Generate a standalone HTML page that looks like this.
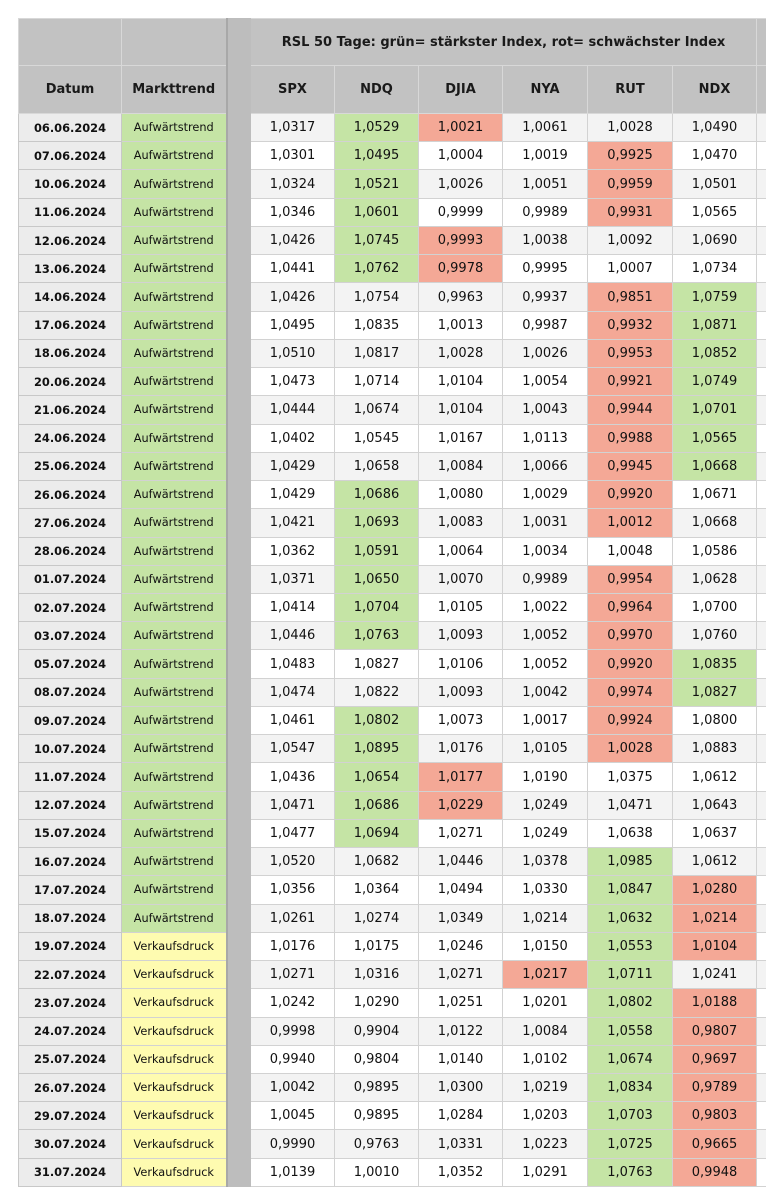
<!DOCTYPE html>
<html><head><meta charset="utf-8"><style>
body{margin:0;background:#fff;width:766px;height:1200px;overflow:hidden;font-family:"DejaVu Sans","Liberation Sans",sans-serif;}
table{position:absolute;left:18px;top:18px;width:748px;table-layout:fixed;border-collapse:collapse;}
td{border:1px solid #d2d2d2;text-align:center;padding:0;font-size:13px;color:#111;white-space:nowrap;overflow:hidden}
thead td{background:#c2c2c2;font-weight:bold;font-size:13px;color:#1a1a1a;border-color:#d8d8d8}
thead tr.h1{height:47px}thead tr.h2{height:48px}
tbody tr{height:28.24px}
tbody tr:nth-child(odd) td{background:#f3f3f3}
tbody tr:nth-child(even) td{background:#fff}
tbody td.d{background:#ececec !important;font-weight:bold;font-size:11.4px;border-color:#c8c8c8}
tbody td.a{background:#c5e4a5 !important;font-size:11.3px}
tbody td.v{background:#fefbb0 !important;font-size:11.3px}
td.x{background:#bdbdbd !important;border-color:#bdbdbd;border-left:2px solid #a8a8a8}
tbody td.g{background:#c5e4a5 !important}
tbody td.r{background:#f4a896 !important}
td.e{border-right:none}
</style></head><body>
<table>
<colgroup><col style="width:103px"><col style="width:105px"><col style="width:24px"><col style="width:84px"><col style="width:84px"><col style="width:84px"><col style="width:85px"><col style="width:85px"><col style="width:84px"><col style="width:10px"></colgroup>
<thead>
<tr class="h1"><td></td><td></td><td class="x"></td><td colspan="6">RSL 50 Tage: grün= stärkster Index, rot= schwächster Index</td><td class="e"></td></tr>
<tr class="h2"><td>Datum</td><td>Markttrend</td><td class="x"></td><td>SPX</td><td>NDQ</td><td>DJIA</td><td>NYA</td><td>RUT</td><td>NDX</td><td class="e"></td></tr>
</thead>
<tbody>
<tr><td class="d">06.06.2024</td><td class="a">Aufwärtstrend</td><td class="x"></td><td>1,0317</td><td class="g">1,0529</td><td class="r">1,0021</td><td>1,0061</td><td>1,0028</td><td>1,0490</td><td class="e"></td></tr>
<tr><td class="d">07.06.2024</td><td class="a">Aufwärtstrend</td><td class="x"></td><td>1,0301</td><td class="g">1,0495</td><td>1,0004</td><td>1,0019</td><td class="r">0,9925</td><td>1,0470</td><td class="e"></td></tr>
<tr><td class="d">10.06.2024</td><td class="a">Aufwärtstrend</td><td class="x"></td><td>1,0324</td><td class="g">1,0521</td><td>1,0026</td><td>1,0051</td><td class="r">0,9959</td><td>1,0501</td><td class="e"></td></tr>
<tr><td class="d">11.06.2024</td><td class="a">Aufwärtstrend</td><td class="x"></td><td>1,0346</td><td class="g">1,0601</td><td>0,9999</td><td>0,9989</td><td class="r">0,9931</td><td>1,0565</td><td class="e"></td></tr>
<tr><td class="d">12.06.2024</td><td class="a">Aufwärtstrend</td><td class="x"></td><td>1,0426</td><td class="g">1,0745</td><td class="r">0,9993</td><td>1,0038</td><td>1,0092</td><td>1,0690</td><td class="e"></td></tr>
<tr><td class="d">13.06.2024</td><td class="a">Aufwärtstrend</td><td class="x"></td><td>1,0441</td><td class="g">1,0762</td><td class="r">0,9978</td><td>0,9995</td><td>1,0007</td><td>1,0734</td><td class="e"></td></tr>
<tr><td class="d">14.06.2024</td><td class="a">Aufwärtstrend</td><td class="x"></td><td>1,0426</td><td>1,0754</td><td>0,9963</td><td>0,9937</td><td class="r">0,9851</td><td class="g">1,0759</td><td class="e"></td></tr>
<tr><td class="d">17.06.2024</td><td class="a">Aufwärtstrend</td><td class="x"></td><td>1,0495</td><td>1,0835</td><td>1,0013</td><td>0,9987</td><td class="r">0,9932</td><td class="g">1,0871</td><td class="e"></td></tr>
<tr><td class="d">18.06.2024</td><td class="a">Aufwärtstrend</td><td class="x"></td><td>1,0510</td><td>1,0817</td><td>1,0028</td><td>1,0026</td><td class="r">0,9953</td><td class="g">1,0852</td><td class="e"></td></tr>
<tr><td class="d">20.06.2024</td><td class="a">Aufwärtstrend</td><td class="x"></td><td>1,0473</td><td>1,0714</td><td>1,0104</td><td>1,0054</td><td class="r">0,9921</td><td class="g">1,0749</td><td class="e"></td></tr>
<tr><td class="d">21.06.2024</td><td class="a">Aufwärtstrend</td><td class="x"></td><td>1,0444</td><td>1,0674</td><td>1,0104</td><td>1,0043</td><td class="r">0,9944</td><td class="g">1,0701</td><td class="e"></td></tr>
<tr><td class="d">24.06.2024</td><td class="a">Aufwärtstrend</td><td class="x"></td><td>1,0402</td><td>1,0545</td><td>1,0167</td><td>1,0113</td><td class="r">0,9988</td><td class="g">1,0565</td><td class="e"></td></tr>
<tr><td class="d">25.06.2024</td><td class="a">Aufwärtstrend</td><td class="x"></td><td>1,0429</td><td>1,0658</td><td>1,0084</td><td>1,0066</td><td class="r">0,9945</td><td class="g">1,0668</td><td class="e"></td></tr>
<tr><td class="d">26.06.2024</td><td class="a">Aufwärtstrend</td><td class="x"></td><td>1,0429</td><td class="g">1,0686</td><td>1,0080</td><td>1,0029</td><td class="r">0,9920</td><td>1,0671</td><td class="e"></td></tr>
<tr><td class="d">27.06.2024</td><td class="a">Aufwärtstrend</td><td class="x"></td><td>1,0421</td><td class="g">1,0693</td><td>1,0083</td><td>1,0031</td><td class="r">1,0012</td><td>1,0668</td><td class="e"></td></tr>
<tr><td class="d">28.06.2024</td><td class="a">Aufwärtstrend</td><td class="x"></td><td>1,0362</td><td class="g">1,0591</td><td>1,0064</td><td>1,0034</td><td>1,0048</td><td>1,0586</td><td class="e"></td></tr>
<tr><td class="d">01.07.2024</td><td class="a">Aufwärtstrend</td><td class="x"></td><td>1,0371</td><td class="g">1,0650</td><td>1,0070</td><td>0,9989</td><td class="r">0,9954</td><td>1,0628</td><td class="e"></td></tr>
<tr><td class="d">02.07.2024</td><td class="a">Aufwärtstrend</td><td class="x"></td><td>1,0414</td><td class="g">1,0704</td><td>1,0105</td><td>1,0022</td><td class="r">0,9964</td><td>1,0700</td><td class="e"></td></tr>
<tr><td class="d">03.07.2024</td><td class="a">Aufwärtstrend</td><td class="x"></td><td>1,0446</td><td class="g">1,0763</td><td>1,0093</td><td>1,0052</td><td class="r">0,9970</td><td>1,0760</td><td class="e"></td></tr>
<tr><td class="d">05.07.2024</td><td class="a">Aufwärtstrend</td><td class="x"></td><td>1,0483</td><td>1,0827</td><td>1,0106</td><td>1,0052</td><td class="r">0,9920</td><td class="g">1,0835</td><td class="e"></td></tr>
<tr><td class="d">08.07.2024</td><td class="a">Aufwärtstrend</td><td class="x"></td><td>1,0474</td><td>1,0822</td><td>1,0093</td><td>1,0042</td><td class="r">0,9974</td><td class="g">1,0827</td><td class="e"></td></tr>
<tr><td class="d">09.07.2024</td><td class="a">Aufwärtstrend</td><td class="x"></td><td>1,0461</td><td class="g">1,0802</td><td>1,0073</td><td>1,0017</td><td class="r">0,9924</td><td>1,0800</td><td class="e"></td></tr>
<tr><td class="d">10.07.2024</td><td class="a">Aufwärtstrend</td><td class="x"></td><td>1,0547</td><td class="g">1,0895</td><td>1,0176</td><td>1,0105</td><td class="r">1,0028</td><td>1,0883</td><td class="e"></td></tr>
<tr><td class="d">11.07.2024</td><td class="a">Aufwärtstrend</td><td class="x"></td><td>1,0436</td><td class="g">1,0654</td><td class="r">1,0177</td><td>1,0190</td><td>1,0375</td><td>1,0612</td><td class="e"></td></tr>
<tr><td class="d">12.07.2024</td><td class="a">Aufwärtstrend</td><td class="x"></td><td>1,0471</td><td class="g">1,0686</td><td class="r">1,0229</td><td>1,0249</td><td>1,0471</td><td>1,0643</td><td class="e"></td></tr>
<tr><td class="d">15.07.2024</td><td class="a">Aufwärtstrend</td><td class="x"></td><td>1,0477</td><td class="g">1,0694</td><td>1,0271</td><td>1,0249</td><td>1,0638</td><td>1,0637</td><td class="e"></td></tr>
<tr><td class="d">16.07.2024</td><td class="a">Aufwärtstrend</td><td class="x"></td><td>1,0520</td><td>1,0682</td><td>1,0446</td><td>1,0378</td><td class="g">1,0985</td><td>1,0612</td><td class="e"></td></tr>
<tr><td class="d">17.07.2024</td><td class="a">Aufwärtstrend</td><td class="x"></td><td>1,0356</td><td>1,0364</td><td>1,0494</td><td>1,0330</td><td class="g">1,0847</td><td class="r">1,0280</td><td class="e"></td></tr>
<tr><td class="d">18.07.2024</td><td class="a">Aufwärtstrend</td><td class="x"></td><td>1,0261</td><td>1,0274</td><td>1,0349</td><td>1,0214</td><td class="g">1,0632</td><td class="r">1,0214</td><td class="e"></td></tr>
<tr><td class="d">19.07.2024</td><td class="v">Verkaufsdruck</td><td class="x"></td><td>1,0176</td><td>1,0175</td><td>1,0246</td><td>1,0150</td><td class="g">1,0553</td><td class="r">1,0104</td><td class="e"></td></tr>
<tr><td class="d">22.07.2024</td><td class="v">Verkaufsdruck</td><td class="x"></td><td>1,0271</td><td>1,0316</td><td>1,0271</td><td class="r">1,0217</td><td class="g">1,0711</td><td>1,0241</td><td class="e"></td></tr>
<tr><td class="d">23.07.2024</td><td class="v">Verkaufsdruck</td><td class="x"></td><td>1,0242</td><td>1,0290</td><td>1,0251</td><td>1,0201</td><td class="g">1,0802</td><td class="r">1,0188</td><td class="e"></td></tr>
<tr><td class="d">24.07.2024</td><td class="v">Verkaufsdruck</td><td class="x"></td><td>0,9998</td><td>0,9904</td><td>1,0122</td><td>1,0084</td><td class="g">1,0558</td><td class="r">0,9807</td><td class="e"></td></tr>
<tr><td class="d">25.07.2024</td><td class="v">Verkaufsdruck</td><td class="x"></td><td>0,9940</td><td>0,9804</td><td>1,0140</td><td>1,0102</td><td class="g">1,0674</td><td class="r">0,9697</td><td class="e"></td></tr>
<tr><td class="d">26.07.2024</td><td class="v">Verkaufsdruck</td><td class="x"></td><td>1,0042</td><td>0,9895</td><td>1,0300</td><td>1,0219</td><td class="g">1,0834</td><td class="r">0,9789</td><td class="e"></td></tr>
<tr><td class="d">29.07.2024</td><td class="v">Verkaufsdruck</td><td class="x"></td><td>1,0045</td><td>0,9895</td><td>1,0284</td><td>1,0203</td><td class="g">1,0703</td><td class="r">0,9803</td><td class="e"></td></tr>
<tr><td class="d">30.07.2024</td><td class="v">Verkaufsdruck</td><td class="x"></td><td>0,9990</td><td>0,9763</td><td>1,0331</td><td>1,0223</td><td class="g">1,0725</td><td class="r">0,9665</td><td class="e"></td></tr>
<tr><td class="d">31.07.2024</td><td class="v">Verkaufsdruck</td><td class="x"></td><td>1,0139</td><td>1,0010</td><td>1,0352</td><td>1,0291</td><td class="g">1,0763</td><td class="r">0,9948</td><td class="e"></td></tr>
</tbody>
</table>
</body></html>
